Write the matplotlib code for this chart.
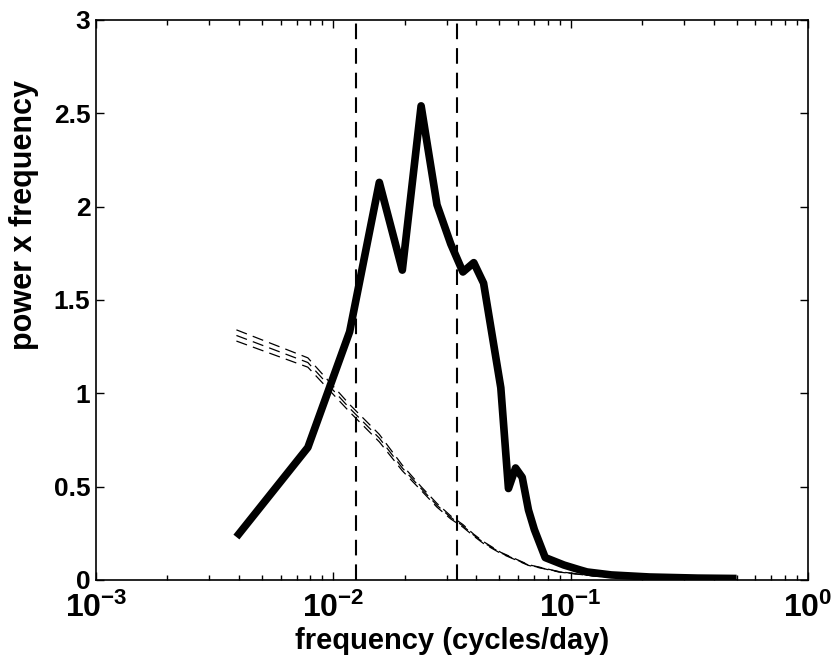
import matplotlib
matplotlib.use('Agg')
import matplotlib.pyplot as plt
from matplotlib.ticker import FixedLocator, FixedFormatter, LogLocator, NullFormatter

plt.rcParams['font.family'] = ['Liberation Sans', 'DejaVu Sans']
plt.rcParams['font.weight'] = 'bold'
plt.rcParams['mathtext.fontset'] = 'custom'
plt.rcParams['mathtext.rm'] = 'Liberation Sans:bold'
plt.rcParams['mathtext.bf'] = 'Liberation Sans:bold'
plt.rcParams['mathtext.default'] = 'bf'

# spectrum (variance preserving), frequencies in cycles/day
freq = [1/256, 2/256, 3/256, 4/256, 5/256, 6/256, 7/256, 8/256, 9/256, 10/256,
        11/256, 13/256, 14/256, 15/256, 16/256, 17/256, 18/256, 20/256, 24/256,
        28/256, 30/256, 38/256, 55/256, 88/256, 128/256]
power = [0.23, 0.71, 1.33, 2.13, 1.66, 2.54, 2.01, 1.80, 1.65, 1.70,
         1.59, 1.03, 0.49, 0.60, 0.55, 0.375, 0.27, 0.12, 0.08,
         0.054, 0.043, 0.027, 0.016, 0.010, 0.008]

# red noise background curves
red_freq = [1/256, 2/256, 3/256, 4/256, 5/256, 6/256, 7/256, 8/256, 9/256, 10/256,
            11/256, 13/256, 17/256, 23/256, 33/256, 64/256, 128/256]
red_hi = [1.34, 1.19, 0.94, 0.78, 0.615, 0.50, 0.41, 0.343, 0.297, 0.245,
          0.205, 0.148, 0.082, 0.044, 0.0205, 0.006, 0.002]
red_mid = [1.31, 1.165, 0.92, 0.76, 0.60, 0.49, 0.40, 0.335, 0.29, 0.24,
           0.20, 0.145, 0.08, 0.043, 0.02, 0.006, 0.002]
red_lo = [1.28, 1.14, 0.90, 0.74, 0.585, 0.48, 0.39, 0.327, 0.283, 0.235,
          0.195, 0.142, 0.078, 0.042, 0.0195, 0.006, 0.002]

# band limits: 80 and 30 days
band = [1/80, 1/30]

fig = plt.figure(figsize=(8.33, 6.62), dpi=100)
ax = fig.add_axes([0.1152, 0.1239, 0.8548, 0.8459])

for r in (red_hi, red_mid, red_lo):
    ax.plot(red_freq, r, color='black', lw=0.9, linestyle=(0, (9, 5)))
for b in band:
    ax.plot([b, b], [0, 3], color='black', lw=1.5, linestyle=(0, (7.5, 4.3)))
ax.plot(freq, power, color='black', lw=5.5, solid_joinstyle='round',
        solid_capstyle='butt')

ax.set_xscale('log')
ax.set_xlim(1e-3, 1)
ax.set_ylim(0, 3)
ax.xaxis.set_major_locator(FixedLocator([1e-3, 1e-2, 1e-1, 1]))
ax.xaxis.set_major_formatter(FixedFormatter([r'$10^{-3}$', r'$10^{-2}$', r'$10^{-1}$', r'$10^{0}$']))
ax.xaxis.set_minor_locator(LogLocator(base=10, subs=range(2, 10)))
ax.xaxis.set_minor_formatter(NullFormatter())
ax.set_yticks([0, 0.5, 1, 1.5, 2, 2.5, 3])
ax.set_yticklabels(['0', '0.5', '1', '1.5', '2', '2.5', '3'])

ax.tick_params(which='both', direction='in', top=True, right=True, labelsize=19, width=1)
ax.tick_params(which='major', length=6)
ax.tick_params(which='minor', length=3.5)
ax.tick_params(axis='x', pad=9, labelsize=23)
ax.tick_params(axis='y', pad=4)
for s in ax.spines.values():
    s.set_linewidth(1.2)

ax.set_xlabel('frequency (cycles/day)', fontsize=21, fontweight='bold', labelpad=2)
ax.set_ylabel('power x frequency', fontsize=22, fontweight='bold')
ax.yaxis.set_label_coords(-0.08, 0.652)

fig.savefig('out.png', dpi=100)
